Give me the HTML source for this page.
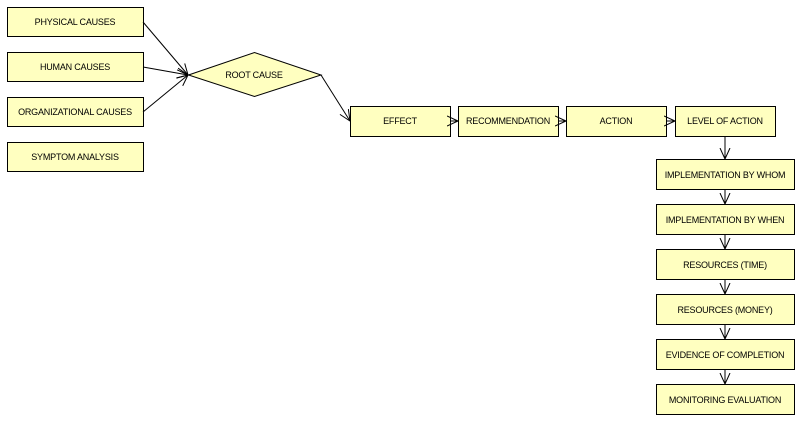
<!DOCTYPE html>
<html><head><meta charset="utf-8"><style>
html,body{margin:0;padding:0;background:#fff;width:800px;height:425px;overflow:hidden}
svg text{font-family:"Liberation Sans",sans-serif;font-size:9px;letter-spacing:-0.2px;fill:#000;text-anchor:middle;dominant-baseline:central}
rect,polygon.n{fill:#ffffc0;stroke:#000;stroke-width:1}
line,polyline{stroke:#000;stroke-width:1;fill:none}
</style></head><body>
<svg width="800" height="425" viewBox="0 0 800 425">
<defs><marker id="a" markerWidth="12" markerHeight="12" refX="11" refY="6" orient="auto" markerUnits="userSpaceOnUse"><polyline points="0,1 11,6 0,11" style="stroke:#000;fill:none"/></marker></defs>
<rect x="7.5" y="7.5" width="136" height="29"/><text x="75" y="22">PHYSICAL CAUSES</text>
<rect x="7.5" y="52.5" width="136" height="29"/><text x="75" y="67">HUMAN CAUSES</text>
<rect x="7.5" y="97.5" width="136" height="29"/><text x="75" y="112">ORGANIZATIONAL CAUSES</text>
<rect x="7.5" y="142.5" width="136" height="29"/><text x="75" y="157">SYMPTOM ANALYSIS</text>
<polygon class="n" points="188.5,75 254.5,52.5 321,75 254.5,96.5"/><text x="254" y="75">ROOT CAUSE</text>
<line x1="143" y1="22" x2="188" y2="75" marker-end="url(#a)"/>
<line x1="143" y1="67" x2="188" y2="75" marker-end="url(#a)"/>
<line x1="143" y1="112" x2="188" y2="75" marker-end="url(#a)"/>
<line x1="321" y1="75" x2="350" y2="121" marker-end="url(#a)"/>
<rect x="350.5" y="106.5" width="100" height="30"/><text x="400" y="121">EFFECT</text>
<rect x="458.5" y="106.5" width="100" height="30"/><text x="508" y="121">RECOMMENDATION</text>
<rect x="566.5" y="106.5" width="100" height="30"/><text x="616" y="121">ACTION</text>
<rect x="675.5" y="106.5" width="100" height="30"/><text x="725" y="121">LEVEL OF ACTION</text>
<line x1="450" y1="121" x2="458" y2="121" marker-end="url(#a)"/>
<line x1="558" y1="121" x2="566" y2="121" marker-end="url(#a)"/>
<line x1="666" y1="121" x2="675" y2="121" marker-end="url(#a)"/>
<line x1="725" y1="136" x2="725" y2="159" marker-end="url(#a)"/>
<rect x="656.5" y="159.5" width="138" height="30"/><text x="725" y="175">IMPLEMENTATION BY WHOM</text>
<line x1="725" y1="190" x2="725" y2="204" marker-end="url(#a)"/>
<rect x="656.5" y="204.5" width="138" height="30"/><text x="725" y="220">IMPLEMENTATION BY WHEN</text>
<line x1="725" y1="235" x2="725" y2="249" marker-end="url(#a)"/>
<rect x="656.5" y="249.5" width="138" height="30"/><text x="725" y="265">RESOURCES (TIME)</text>
<line x1="725" y1="280" x2="725" y2="294" marker-end="url(#a)"/>
<rect x="656.5" y="294.5" width="138" height="30"/><text x="725" y="310">RESOURCES (MONEY)</text>
<line x1="725" y1="325" x2="725" y2="339" marker-end="url(#a)"/>
<rect x="656.5" y="339.5" width="138" height="30"/><text x="725" y="355">EVIDENCE OF COMPLETION</text>
<line x1="725" y1="370" x2="725" y2="384" marker-end="url(#a)"/>
<rect x="656.5" y="384.5" width="138" height="30"/><text x="725" y="400">MONITORING EVALUATION</text>
</svg>
</body></html>
